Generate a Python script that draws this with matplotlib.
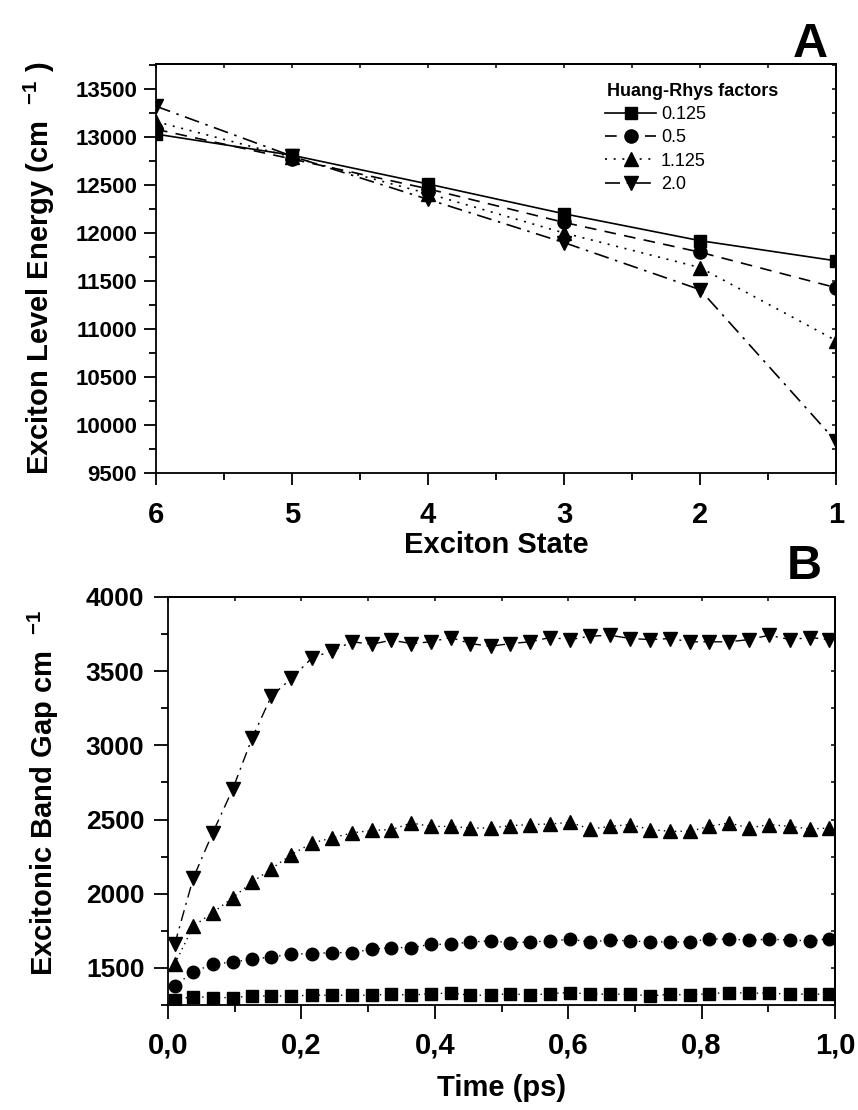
import matplotlib
matplotlib.use('Agg')
import matplotlib.pyplot as plt
from matplotlib.ticker import MultipleLocator, FixedLocator, FixedFormatter

plt.rcParams['font.family'] = ['Liberation Sans', 'DejaVu Sans']
plt.rcParams['mathtext.fontset'] = 'custom'
plt.rcParams['mathtext.rm'] = 'Liberation Sans:bold'
plt.rcParams['mathtext.bf'] = 'Liberation Sans:bold'
plt.rcParams['mathtext.default'] = 'bf'

# ---------------- Panel A data ----------------
exciton_states = [6, 5, 4, 3, 2, 1]
huang_rhys_labels = ['0.125', '0.5', '1.125', '2.0']
energy_s0125 = [13030, 12810, 12510, 12200, 11920, 11710]
energy_s05 = [13080, 12770, 12460, 12110, 11800, 11430]
energy_s1125 = [13160, 12790, 12410, 12000, 11640, 10880]
energy_s20 = [13320, 12800, 12350, 11900, 11410, 9830]
yticks_A = [9500, 10000, 10500, 11000, 11500, 12000, 12500, 13000, 13500]

# ---------------- Panel B data ----------------
time_ps = [0.010, 0.038, 0.067, 0.097, 0.126, 0.155, 0.185, 0.216, 0.246, 0.276,
           0.306, 0.335, 0.365, 0.394, 0.424, 0.453, 0.484, 0.513, 0.543, 0.573,
           0.603, 0.633, 0.663, 0.693, 0.723, 0.753, 0.783, 0.811, 0.841, 0.871,
           0.901, 0.933, 0.963, 0.991]
gap_s0125 = [1285, 1307, 1300, 1300, 1311, 1311, 1311, 1316, 1316, 1316,
             1316, 1323, 1316, 1327, 1330, 1316, 1316, 1327, 1316, 1327,
             1334, 1323, 1323, 1323, 1311, 1323, 1316, 1327, 1334, 1330,
             1330, 1323, 1323, 1323]
gap_s05 = [1379, 1473, 1525, 1540, 1558, 1574, 1592, 1597, 1603, 1603,
           1626, 1637, 1637, 1659, 1659, 1675, 1682, 1670, 1675, 1682,
           1693, 1675, 1688, 1682, 1675, 1675, 1675, 1697, 1693, 1688,
           1693, 1688, 1682, 1697]
gap_s1125 = [1525, 1782, 1872, 1973, 2078, 2168, 2264, 2342, 2376, 2410,
             2427, 2432, 2477, 2454, 2454, 2443, 2443, 2459, 2466, 2470,
             2481, 2436, 2454, 2466, 2432, 2421, 2421, 2454, 2477, 2443,
             2466, 2454, 2436, 2443]
gap_s20 = [1659, 2107, 2410, 2705, 3048, 3332, 3451, 3590, 3637, 3698,
           3682, 3709, 3686, 3698, 3727, 3686, 3668, 3686, 3698, 3727,
           3713, 3736, 3742, 3720, 3713, 3720, 3698, 3698, 3698, 3713,
           3742, 3713, 3727, 3713]
xticks_B = [0.0, 0.2, 0.4, 0.6, 0.8, 1.0]
xticklabels_B = ['0,0', '0,2', '0,4', '0,6', '0,8', '1,0']
yticks_B = [1500, 2000, 2500, 3000, 3500, 4000]

W, H = 858, 1110
fig = plt.figure(figsize=(W / 100, H / 100), dpi=100)


def px_axes(l, t, r, b):
    return fig.add_axes([l / W, 1 - b / H, (r - l) / W, (b - t) / H])


def style_axes(ax, xmaj, xmin_step, ymaj, ymin_step, xlim, ylim):
    ax.set_xlim(*xlim)
    ax.set_ylim(*ylim)
    ax.xaxis.set_major_locator(FixedLocator(xmaj))
    ax.xaxis.set_minor_locator(MultipleLocator(xmin_step))
    ax.yaxis.set_major_locator(FixedLocator(ymaj))
    ax.yaxis.set_minor_locator(MultipleLocator(ymin_step))
    for sp in ax.spines.values():
        sp.set_linewidth(1.3)
    ax.tick_params(which='major', direction='out', length=8.5, width=1.3,
                   top=False, right=False)
    ax.tick_params(which='minor', direction='out', length=5, width=1.3,
                   top=False, right=False)
    sx = ax.secondary_xaxis('top')
    sx.xaxis.set_major_locator(FixedLocator(xmaj))
    sx.xaxis.set_minor_locator(MultipleLocator(xmin_step))
    sx.tick_params(which='both', direction='in', length=3, width=1.1,
                   labeltop=False)
    sx.spines['top'].set_linewidth(1.3)
    sy = ax.secondary_yaxis('right')
    sy.yaxis.set_major_locator(FixedLocator(ymaj))
    sy.yaxis.set_minor_locator(MultipleLocator(ymin_step))
    sy.tick_params(which='both', direction='in', length=3, width=1.1,
                   labelright=False)
    sy.spines['right'].set_linewidth(1.3)


# ---------------- Panel A ----------------
axA = px_axes(156, 64, 836, 473)
styles_A = [
    ('s', 9, '-'),
    ('o', 9.5, (0, (7, 5))),
    ('^', 10, (0, (1.2, 4))),
    ('v', 10, (0, (9, 4, 1.5, 4))),
]
series_A = [energy_s0125, energy_s05, energy_s1125, energy_s20]
for vals, lab, (mk, ms, ls) in zip(series_A, huang_rhys_labels, styles_A):
    axA.plot(exciton_states, vals, color='black', marker=mk, markersize=ms,
             linestyle=ls, linewidth=1.2, label=lab)

style_axes(axA, exciton_states, 0.5, yticks_A, 250, (6, 1), (9500, 13760))
axA.set_xticklabels([str(s) for s in exciton_states])
for lbl in axA.get_yticklabels():
    lbl.set_fontsize(16)
    lbl.set_fontweight('bold')
for lbl in axA.get_xticklabels():
    lbl.set_fontsize(21)
    lbl.set_fontweight('bold')
axA.tick_params(axis='y', pad=5)
axA.tick_params(axis='x', pad=12)
axA.set_ylabel('Exciton Level Energy (cm  $^{-1}$ )', fontsize=21,
               fontweight='bold')
axA.yaxis.set_label_coords(-0.146, 0.5)
axA.set_xlabel('Exciton State', fontsize=21, fontweight='bold')
axA.xaxis.set_label_coords(0.5, -0.142)

fig.text(607 / W, 1 - 91 / H, 'Huang-Rhys factors', fontsize=13,
         fontweight='bold', ha='left', va='center')
leg = axA.legend(loc='upper left',
                 bbox_to_anchor=(605 / W, 1 - 106 / H),
                 bbox_transform=fig.transFigure, frameon=False,
                 prop={'size': 13},
                 handlelength=2.85, handletextpad=0.25, labelspacing=0.35,
                 borderpad=0, borderaxespad=0)

# ---------------- Panel B ----------------
axB = px_axes(168, 597, 835, 1005)
styles_B = [
    ('s', 8, (0, (1, 3))),
    ('o', 9, (0, (1, 3))),
    ('^', 9.5, (0, (1, 3))),
    ('v', 9.5, (0, (8, 4, 1.5, 4))),
]
series_B = [gap_s0125, gap_s05, gap_s1125, gap_s20]
for vals, (mk, ms, ls) in zip(series_B, styles_B):
    axB.plot(time_ps, vals, color='black', marker=mk, markersize=ms,
             linestyle=ls, linewidth=1.0)

style_axes(axB, xticks_B, 0.1, yticks_B, 250, (0, 1.0), (1250, 4000))
axB.xaxis.set_major_formatter(FixedFormatter(xticklabels_B))
for lbl in axB.get_yticklabels():
    lbl.set_fontsize(19)
    lbl.set_fontweight('bold')
for lbl in axB.get_xticklabels():
    lbl.set_fontsize(21)
    lbl.set_fontweight('bold')
axB.tick_params(axis='y', pad=7, length=10)
axB.tick_params(axis='x', which='major', pad=9, length=10)
axB.set_ylabel('Excitonic Band Gap cm  $^{-1}$', fontsize=21,
               fontweight='bold')
axB.yaxis.set_label_coords(-0.16, 0.52)
axB.set_xlabel('Time (ps)', fontsize=21, fontweight='bold')
axB.xaxis.set_label_coords(0.5, -0.17)

fig.text(828 / W, 1 - 57 / H, 'A', fontsize=35, fontweight='bold',
         ha='right', va='baseline')
fig.text(822 / W, 1 - 579 / H, 'B', fontsize=35, fontweight='bold',
         ha='right', va='baseline')

fig.savefig('out.png', dpi=100)
